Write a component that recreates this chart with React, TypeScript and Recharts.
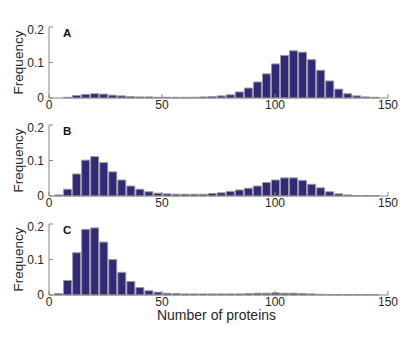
import { BarChart, Bar, XAxis, YAxis } from 'recharts';

const bins = [4, 8, 12, 16, 20, 24, 28, 32, 36, 40, 44, 48, 52, 56, 60, 64, 68, 72, 76, 80, 84, 88, 92, 96, 100, 104, 108, 112, 116, 120, 124, 128, 132, 136, 140, 144];

const freqA = [0, 0.002, 0.007, 0.01, 0.012, 0.011, 0.008, 0.006, 0.004, 0.003, 0.003, 0.002, 0.002, 0.002, 0.002, 0.002, 0.003, 0.004, 0.006, 0.009, 0.017, 0.028, 0.045, 0.068, 0.096, 0.12, 0.133, 0.129, 0.108, 0.078, 0.048, 0.025, 0.012, 0.006, 0.003, 0.002];
const freqB = [0.003, 0.019, 0.062, 0.101, 0.111, 0.094, 0.068, 0.045, 0.028, 0.019, 0.012, 0.008, 0.006, 0.005, 0.005, 0.005, 0.005, 0.007, 0.009, 0.013, 0.017, 0.022, 0.028, 0.038, 0.045, 0.051, 0.051, 0.044, 0.033, 0.023, 0.012, 0.006, 0.003, 0.001, 0.001, 0.001];
const freqC = [0.004, 0.041, 0.119, 0.185, 0.189, 0.149, 0.1, 0.064, 0.038, 0.021, 0.012, 0.008, 0.005, 0.004, 0.003, 0.003, 0.003, 0.003, 0.003, 0.003, 0.003, 0.004, 0.005, 0.005, 0.006, 0.005, 0.005, 0.004, 0.003, 0.002, 0.001, 0.001, 0.001, 0.001, 0.001, 0.001];

const xTicks = [0, 50, 100, 150];
const yTicks = [0, 0.1, 0.2];

const FONT = '"Liberation Sans", Arial, Helvetica, sans-serif';
const BOX = '#858585';
const TEXT = '#262626';
const BAR_FILL = '#312a7b';
const BAR_EDGE = '#9a9a9a';

function Panel({ values, plotTop, letter, xLabel }: { values: number[]; plotTop: number; letter: string; xLabel?: string }) {
  const data = bins.map((b, i) => ({ bin: b, freq: values[i] }));
  const plotH = 71;
  return (
    <div style={{ position: 'absolute', left: 0, top: plotTop - 5 }}>
      <BarChart width={415} height={5 + plotH + 22} data={data} margin={{ top: 5, right: 27, bottom: 0, left: 0 }}>
        <XAxis
          dataKey="bin"
          type="number"
          domain={[0, 150]}
          ticks={xTicks}
          height={22}
          stroke={BOX}
          tickSize={-4}
          tickMargin={6}
          tick={{ fill: TEXT, fontSize: 12, fontFamily: FONT }}
        />
        <XAxis
          xAxisId="top"
          orientation="top"
          dataKey="bin"
          type="number"
          domain={[0, 150]}
          ticks={xTicks}
          height={0}
          stroke={BOX}
          tickSize={-4}
          tick={false}
        />
        <YAxis
          domain={[0, 0.2]}
          ticks={yTicks}
          width={49}
          stroke={BOX}
          tickSize={-4}
          tickMargin={9}
          tick={{ fill: TEXT, fontSize: 12, fontFamily: FONT }}
          label={{ value: 'Frequency', angle: -90, position: 'center', dx: -6, style: { fill: TEXT, fontSize: 13.5, fontFamily: FONT } }}
        />
        <YAxis
          yAxisId="right"
          orientation="right"
          domain={[0, 0.2]}
          ticks={yTicks}
          width={0}
          stroke={BOX}
          tickSize={-4}
          tick={false}
        />
        <Bar dataKey="freq" fill={BAR_FILL} stroke={BAR_EDGE} strokeWidth={1} barSize={8} isAnimationActive={false} />
      </BarChart>
      <div style={{ position: 'absolute', left: 47, width: 339, top: 5.5, paddingLeft: 16, fontFamily: FONT, fontWeight: 'bold', fontSize: 11.5, lineHeight: 1, color: '#111' }}>
        {letter}
      </div>
      {xLabel && (
        <div style={{ position: 'absolute', left: 47, width: 339, top: 5 + plotH + 13, textAlign: 'center', fontFamily: FONT, fontSize: 14, lineHeight: 1, color: TEXT }}>
          {xLabel}
        </div>
      )}
    </div>
  );
}

export default function App() {
  return (
    <div style={{ position: 'absolute', left: 0, top: 0, width: 415, height: 341, background: '#fff' }}>
      <Panel values={freqA} plotTop={27} letter="A" />
      <Panel values={freqB} plotTop={125} letter="B" />
      <Panel values={freqC} plotTop={224} letter="C" xLabel="Number of proteins" />
    </div>
  );
}
